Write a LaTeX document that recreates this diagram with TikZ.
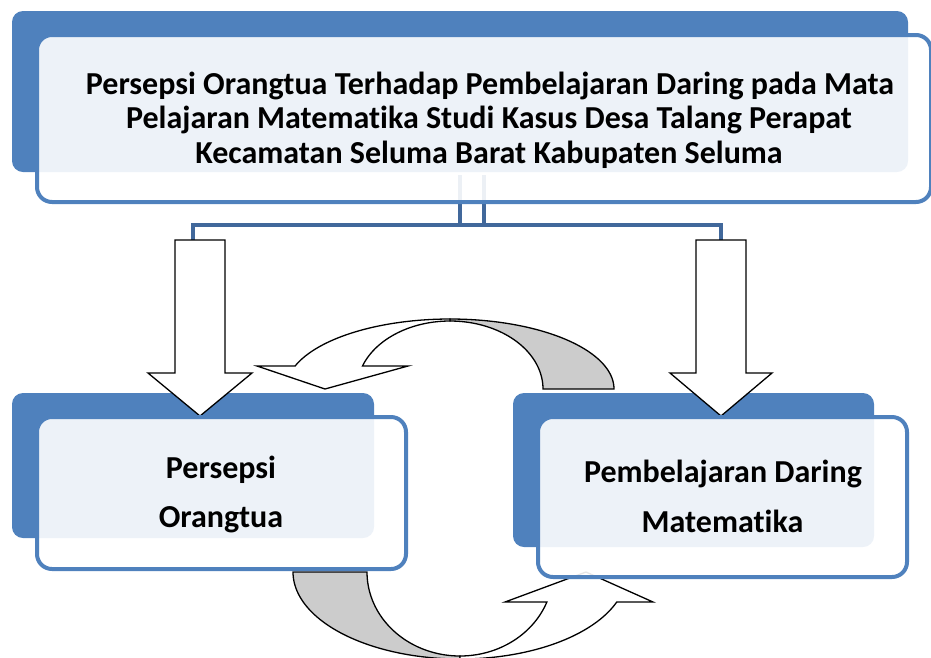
\documentclass[tikz,border=0pt]{standalone}
\usepackage{fontspec}
\setmainfont{Carlito}[Ligatures=NoCommon]
\definecolor{accent}{HTML}{4F81BD}
\definecolor{connblue}{HTML}{41689B}
\tikzset{
  backbox/.style={fill=accent, draw=none, rounded corners=11pt, inner sep=0pt, outer sep=0pt},
  frontbox/.style={fill=white, fill opacity=0.9, draw=accent, line width=4pt, rounded corners=15pt, inner sep=0pt, outer sep=0pt},
  lbl/.style={font=\fontsize{32}{34}\selectfont\bfseries, anchor=base, inner sep=0pt},
  blockarrow/.style={fill=white, draw=black, line width=1.3pt, line join=miter},
  curveback/.style={fill=black!20, draw=black, line width=1.3pt, line join=miter},
  curvefront/.style={fill=white, draw=black, line width=1.3pt, line join=miter},
  conn/.style={draw=connblue, line width=4.5pt, line join=miter},
}
\begin{document}
\begin{tikzpicture}[x=1pt,y=-1pt]
\useasboundingbox (0,0) rectangle (931,657);
% top box
\node[backbox, minimum width=896pt, minimum height=161pt] (topback) at (460,91.5) {};
\coordinate (c1a) at (460,175); \coordinate (c1b) at (460,225);
\coordinate (c2a) at (484,175); \coordinate (c2b) at (484,225);
\coordinate (dl) at (193,240); \coordinate (dr) at (721,240);
\draw[conn] (c1a) -- (c1b);
\draw[conn] (c2a) -- (c2b);
\draw[conn] (dl) -- (193,225) -- (721,225) -- (dr);
\node[frontbox, minimum width=894pt, minimum height=167pt] (topfront) at (484,118.5) {};
\node[lbl] (t1) at (490,94) {Persepsi Orangtua Terhadap Pembelajaran Daring pada Mata};
\node[lbl] (t2) at (489,128.5) {Pelajaran Matematika Studi Kasus Desa Talang Perapat};
\node[lbl] (t3) at (489,163) {Kecamatan Seluma Barat Kabupaten Seluma};
% lower back boxes
\node[backbox, minimum width=362pt, minimum height=145pt] (lback) at (193,465.5) {};
\node[backbox, minimum width=361pt, minimum height=154pt] (rback) at (693.5,470) {};
% down block arrows
\draw[blockarrow] (175,240) -- (225,240) -- (225,373) -- (252,373) -- (200,416) -- (148,373) -- (175,373) -- cycle;
\draw[blockarrow] (696,240) -- (746,240) -- (746,373) -- (772,373) -- (721,416) -- (670,373) -- (696,373) -- cycle;
% top curved arrow
\draw[curveback] plot[domain=0:90,samples=50] ({450+164*cos(\x)},{389-70*sin(\x)})
  -- plot[domain=90:0,samples=50] ({450+93*cos(\x)},{389-68*sin(\x)}) -- cycle;
\draw[curvefront] plot[domain=90:160.8,samples=50] ({450+164*cos(\x)},{389-70*sin(\x)})
  -- (257,366) -- (325,389) -- (408,366)
  -- plot[domain=160.2:90,samples=50] ({450+93*cos(\x)},{389-68*sin(\x)}) -- cycle;
% bottom curved arrow
\draw[curveback] plot[domain=180:90,samples=50] ({460+167*cos(\x)},{572+87*sin(\x)})
  -- plot[domain=90:180,samples=50] ({460+93*cos(\x)},{572+84*sin(\x)}) -- cycle;
\draw[curvefront] plot[domain=90:20.2,samples=50] ({460+167*cos(\x)},{572+87*sin(\x)})
  -- (653,602) -- (586,572) -- (505,602)
  -- plot[domain=20.9:90,samples=50] ({460+93*cos(\x)},{572+84*sin(\x)}) -- cycle;
% lower front boxes
\node[frontbox, minimum width=369pt, minimum height=152pt] (lfront) at (221.5,493) {};
\node[frontbox, minimum width=369pt, minimum height=160pt] (rfront) at (722.5,497) {};
\node[lbl] (l1) at (221,478) {Persepsi};
\node[lbl] (l2) at (221,527) {Orangtua};
\node[lbl] (r1) at (723,482) {Pembelajaran Daring};
\node[lbl] (r2) at (722.5,532) {Matematika};
\end{tikzpicture}
\end{document}
